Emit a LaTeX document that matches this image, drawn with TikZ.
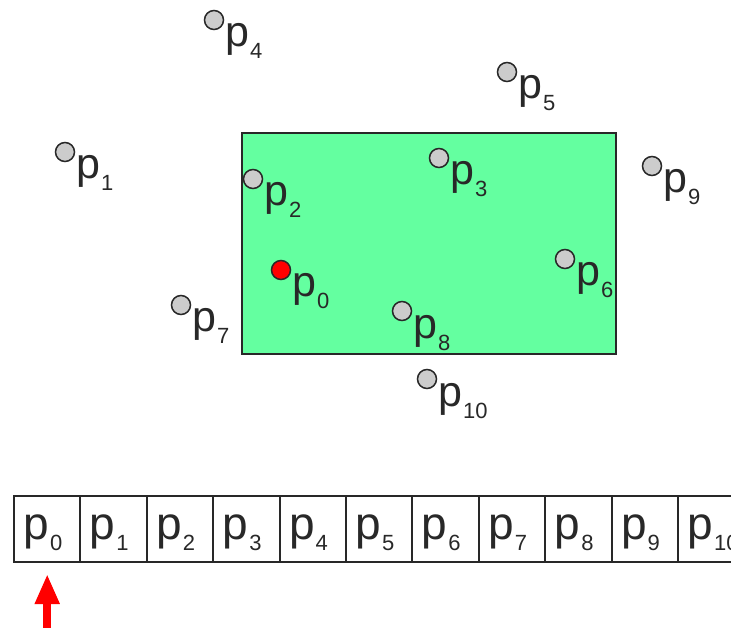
\documentclass[tikz,border=0pt]{standalone}
\usepackage{fontspec}
\setmainfont{Liberation Sans}
\usetikzlibrary{arrows.meta}
\definecolor{boxgreen}{RGB}{100,255,160}
\definecolor{edgecol}{RGB}{40,40,40}
\definecolor{ptgray}{RGB}{204,204,204}
\newcommand{\plab}[1]{{\fontsize{43}{43}\selectfont p}\kern1pt\raisebox{-12pt}{\fontsize{22}{22}\selectfont #1}}
\newcommand{\alab}[1]{{\fontsize{46}{46}\selectfont p}\kern1pt\raisebox{-11pt}{\fontsize{22}{22}\selectfont #1}}
\begin{document}
\begin{tikzpicture}[x=1pt,y=-1pt,
  ptnode/.style={circle,draw=edgecol,line width=1.5pt,fill=ptgray,minimum size=19pt,inner sep=0},
  ptred/.style={ptnode,fill=red},
  plabel/.style={anchor=base west,inner sep=0,text=edgecol},
  cell/.style={draw=edgecol,line width=2pt,minimum width=66.4pt,minimum height=66pt,
    text width=47.4pt,align=left,inner xsep=9.5pt,inner ysep=0,text height=43pt,text depth=23pt,text=edgecol},
  region/.style={draw=edgecol,line width=2pt,fill=boxgreen,minimum width=374pt,minimum height=221pt,inner sep=0}]
\useasboundingbox (0,0) rectangle (731,628);
\node[region] (rect) at (429,243.5) {};
% points
\foreach \i/\x/\y in {1/65/152,2/253/179,3/439/158,4/214/20,5/507/72,6/565/259,7/181/305,8/402/311,9/652/166,10/427/379}{
  \node[ptnode] (n\i) at (\x,\y) {};
  \node[plabel] (l\i) at (\x+11,\y+27) {\plab{\i}};
}
\node[ptred] (n0) at (281,270) {};
\node[plabel] (l0) at (281+11,270+27) {\plab{0}};
% array
\foreach \i in {0,...,10}{
  \node[cell] (c\i) at ({14+66.4*(\i+0.5)},529) {\alab{\i}};
}
% arrow
\coordinate (arrbase) at (47.2,640);
\draw[red,line width=8pt,-{Triangle[length=30pt,width=23pt]}] (arrbase) -- ([yshift=-11pt]c0.south);
\end{tikzpicture}
\end{document}
